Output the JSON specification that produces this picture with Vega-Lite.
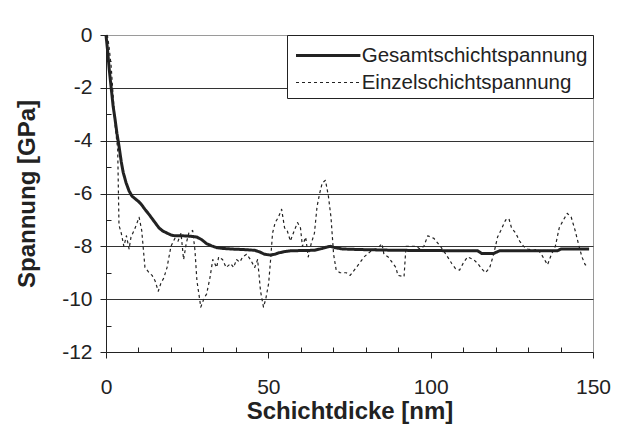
{
  "$schema": "https://vega.github.io/schema/vega-lite/v6.json",
  "autosize": {"type": "none"},
  "padding": {"left": 106, "top": 35, "right": 31, "bottom": 78},
  "width": 487,
  "height": 317,
  "background": "white",
  "config": {
    "view": {"stroke": "#9a9a9a", "strokeWidth": 1},
    "font": "Liberation Sans"
  },
  "data": {"values": [
    {"k":"Gesamtschichtspannung","x":0,"y":0},{"k":"Gesamtschichtspannung","x":0.5,"y":-0.6},{"k":"Gesamtschichtspannung","x":1.0,"y":-1.3},{"k":"Gesamtschichtspannung","x":1.6,"y":-2.0},{"k":"Gesamtschichtspannung","x":2.2,"y":-2.7},{"k":"Gesamtschichtspannung","x":2.8,"y":-3.2},{"k":"Gesamtschichtspannung","x":3.4,"y":-3.75},{"k":"Gesamtschichtspannung","x":4.0,"y":-4.2},{"k":"Gesamtschichtspannung","x":4.7,"y":-4.8},{"k":"Gesamtschichtspannung","x":5.3,"y":-5.2},{"k":"Gesamtschichtspannung","x":6.2,"y":-5.6},{"k":"Gesamtschichtspannung","x":7.1,"y":-5.9},{"k":"Gesamtschichtspannung","x":8.0,"y":-6.1},{"k":"Gesamtschichtspannung","x":9.0,"y":-6.2},{"k":"Gesamtschichtspannung","x":10.0,"y":-6.3},{"k":"Gesamtschichtspannung","x":10.8,"y":-6.4},{"k":"Gesamtschichtspannung","x":12.0,"y":-6.6},{"k":"Gesamtschichtspannung","x":13.3,"y":-6.8},{"k":"Gesamtschichtspannung","x":14.8,"y":-7.05},{"k":"Gesamtschichtspannung","x":16.3,"y":-7.3},{"k":"Gesamtschichtspannung","x":17.5,"y":-7.42},{"k":"Gesamtschichtspannung","x":18.8,"y":-7.5},{"k":"Gesamtschichtspannung","x":20.0,"y":-7.57},{"k":"Gesamtschichtspannung","x":21.2,"y":-7.6},{"k":"Gesamtschichtspannung","x":23.5,"y":-7.6},{"k":"Gesamtschichtspannung","x":26.1,"y":-7.62},{"k":"Gesamtschichtspannung","x":28.0,"y":-7.65},{"k":"Gesamtschichtspannung","x":29.5,"y":-7.75},{"k":"Gesamtschichtspannung","x":31.0,"y":-7.9},{"k":"Gesamtschichtspannung","x":32.5,"y":-7.98},{"k":"Gesamtschichtspannung","x":34.1,"y":-8.05},{"k":"Gesamtschichtspannung","x":36.0,"y":-8.08},{"k":"Gesamtschichtspannung","x":38.4,"y":-8.1},{"k":"Gesamtschichtspannung","x":42.0,"y":-8.12},{"k":"Gesamtschichtspannung","x":45.8,"y":-8.15},{"k":"Gesamtschichtspannung","x":47.5,"y":-8.22},{"k":"Gesamtschichtspannung","x":48.8,"y":-8.3},{"k":"Gesamtschichtspannung","x":50.7,"y":-8.33},{"k":"Gesamtschichtspannung","x":52.0,"y":-8.3},{"k":"Gesamtschichtspannung","x":53.1,"y":-8.25},{"k":"Gesamtschichtspannung","x":55.0,"y":-8.2},{"k":"Gesamtschichtspannung","x":56.8,"y":-8.17},{"k":"Gesamtschichtspannung","x":60,"y":-8.16},{"k":"Gesamtschichtspannung","x":64.2,"y":-8.15},{"k":"Gesamtschichtspannung","x":66.6,"y":-8.08},{"k":"Gesamtschichtspannung","x":68.0,"y":-8.03},{"k":"Gesamtschichtspannung","x":69.1,"y":-8.0},{"k":"Gesamtschichtspannung","x":70.5,"y":-8.05},{"k":"Gesamtschichtspannung","x":72.8,"y":-8.1},{"k":"Gesamtschichtspannung","x":77.7,"y":-8.12},{"k":"Gesamtschichtspannung","x":85,"y":-8.14},{"k":"Gesamtschichtspannung","x":89.9,"y":-8.15},{"k":"Gesamtschichtspannung","x":100,"y":-8.16},{"k":"Gesamtschichtspannung","x":114.5,"y":-8.17},{"k":"Gesamtschichtspannung","x":115.7,"y":-8.27},{"k":"Gesamtschichtspannung","x":119.4,"y":-8.27},{"k":"Gesamtschichtspannung","x":121.2,"y":-8.17},{"k":"Gesamtschichtspannung","x":130,"y":-8.17},{"k":"Gesamtschichtspannung","x":139,"y":-8.17},{"k":"Gesamtschichtspannung","x":140.2,"y":-8.1},{"k":"Gesamtschichtspannung","x":148.8,"y":-8.1},
    {"k":"Einzelschichtspannung","x":0.4,"y":0},{"k":"Einzelschichtspannung","x":0.9,"y":-0.4},{"k":"Einzelschichtspannung","x":1.6,"y":-1.2},{"k":"Einzelschichtspannung","x":2.2,"y":-2.3},{"k":"Einzelschichtspannung","x":2.8,"y":-3.4},{"k":"Einzelschichtspannung","x":3.3,"y":-4.0},{"k":"Einzelschichtspannung","x":3.6,"y":-4.3},{"k":"Einzelschichtspannung","x":4.0,"y":-7.2},{"k":"Einzelschichtspannung","x":4.7,"y":-7.5},{"k":"Einzelschichtspannung","x":5.5,"y":-8.0},{"k":"Einzelschichtspannung","x":6.3,"y":-7.6},{"k":"Einzelschichtspannung","x":7.1,"y":-8.1},{"k":"Einzelschichtspannung","x":7.7,"y":-7.65},{"k":"Einzelschichtspannung","x":9.0,"y":-7.3},{"k":"Einzelschichtspannung","x":10.2,"y":-6.9},{"k":"Einzelschichtspannung","x":11.0,"y":-7.4},{"k":"Einzelschichtspannung","x":12.0,"y":-8.8},{"k":"Einzelschichtspannung","x":13.3,"y":-9.0},{"k":"Einzelschichtspannung","x":14.2,"y":-9.1},{"k":"Einzelschichtspannung","x":15.1,"y":-9.3},{"k":"Einzelschichtspannung","x":16.1,"y":-9.7},{"k":"Einzelschichtspannung","x":16.9,"y":-9.4},{"k":"Einzelschichtspannung","x":17.8,"y":-9.2},{"k":"Einzelschichtspannung","x":18.8,"y":-8.8},{"k":"Einzelschichtspannung","x":20.0,"y":-8.0},{"k":"Einzelschichtspannung","x":21.2,"y":-7.7},{"k":"Einzelschichtspannung","x":22.2,"y":-7.8},{"k":"Einzelschichtspannung","x":23.1,"y":-7.5},{"k":"Einzelschichtspannung","x":23.9,"y":-8.5},{"k":"Einzelschichtspannung","x":24.7,"y":-7.9},{"k":"Einzelschichtspannung","x":25.5,"y":-7.5},{"k":"Einzelschichtspannung","x":26.7,"y":-7.4},{"k":"Einzelschichtspannung","x":27.4,"y":-8.15},{"k":"Einzelschichtspannung","x":28.0,"y":-9.3},{"k":"Einzelschichtspannung","x":29.2,"y":-10.3},{"k":"Einzelschichtspannung","x":30.1,"y":-10.0},{"k":"Einzelschichtspannung","x":31.0,"y":-9.8},{"k":"Einzelschichtspannung","x":32.0,"y":-9.2},{"k":"Einzelschichtspannung","x":32.9,"y":-8.5},{"k":"Einzelschichtspannung","x":34.1,"y":-8.8},{"k":"Einzelschichtspannung","x":34.7,"y":-8.4},{"k":"Einzelschichtspannung","x":35.9,"y":-8.5},{"k":"Einzelschichtspannung","x":37.0,"y":-8.8},{"k":"Einzelschichtspannung","x":38.4,"y":-8.65},{"k":"Einzelschichtspannung","x":39.3,"y":-8.8},{"k":"Einzelschichtspannung","x":40.2,"y":-8.5},{"k":"Einzelschichtspannung","x":41.2,"y":-8.6},{"k":"Einzelschichtspannung","x":42.1,"y":-8.4},{"k":"Einzelschichtspannung","x":43.3,"y":-8.3},{"k":"Einzelschichtspannung","x":44.5,"y":-8.5},{"k":"Einzelschichtspannung","x":45.8,"y":-8.8},{"k":"Einzelschichtspannung","x":46.7,"y":-8.5},{"k":"Einzelschichtspannung","x":47.6,"y":-9.7},{"k":"Einzelschichtspannung","x":48.5,"y":-10.3},{"k":"Einzelschichtspannung","x":49.2,"y":-10.0},{"k":"Einzelschichtspannung","x":50.1,"y":-9.4},{"k":"Einzelschichtspannung","x":50.7,"y":-8.5},{"k":"Einzelschichtspannung","x":51.3,"y":-7.5},{"k":"Einzelschichtspannung","x":52.1,"y":-7.1},{"k":"Einzelschichtspannung","x":53.1,"y":-6.9},{"k":"Einzelschichtspannung","x":54.1,"y":-6.6},{"k":"Einzelschichtspannung","x":55.0,"y":-7.3},{"k":"Einzelschichtspannung","x":55.8,"y":-7.4},{"k":"Einzelschichtspannung","x":56.8,"y":-7.8},{"k":"Einzelschichtspannung","x":58.0,"y":-7.4},{"k":"Einzelschichtspannung","x":59.0,"y":-7.1},{"k":"Einzelschichtspannung","x":59.9,"y":-7.3},{"k":"Einzelschichtspannung","x":60.5,"y":-8.0},{"k":"Einzelschichtspannung","x":61.5,"y":-7.65},{"k":"Einzelschichtspannung","x":62.3,"y":-8.4},{"k":"Einzelschichtspannung","x":63.2,"y":-7.9},{"k":"Einzelschichtspannung","x":64.2,"y":-7.5},{"k":"Einzelschichtspannung","x":65.0,"y":-6.5},{"k":"Einzelschichtspannung","x":65.8,"y":-6.0},{"k":"Einzelschichtspannung","x":66.6,"y":-5.6},{"k":"Einzelschichtspannung","x":67.6,"y":-5.5},{"k":"Einzelschichtspannung","x":68.5,"y":-6.1},{"k":"Einzelschichtspannung","x":69.3,"y":-6.9},{"k":"Einzelschichtspannung","x":70.1,"y":-8.3},{"k":"Einzelschichtspannung","x":70.9,"y":-8.9},{"k":"Einzelschichtspannung","x":72.1,"y":-9.0},{"k":"Einzelschichtspannung","x":74.0,"y":-9.0},{"k":"Einzelschichtspannung","x":75.2,"y":-9.1},{"k":"Einzelschichtspannung","x":77.1,"y":-8.8},{"k":"Einzelschichtspannung","x":78.3,"y":-8.6},{"k":"Einzelschichtspannung","x":79.5,"y":-8.4},{"k":"Einzelschichtspannung","x":81.4,"y":-8.2},{"k":"Einzelschichtspannung","x":83.8,"y":-8.05},{"k":"Einzelschichtspannung","x":85.0,"y":-7.9},{"k":"Einzelschichtspannung","x":85.6,"y":-8.3},{"k":"Einzelschichtspannung","x":86.9,"y":-8.4},{"k":"Einzelschichtspannung","x":88.1,"y":-8.6},{"k":"Einzelschichtspannung","x":89.3,"y":-8.8},{"k":"Einzelschichtspannung","x":89.9,"y":-9.1},{"k":"Einzelschichtspannung","x":91.8,"y":-9.15},{"k":"Einzelschichtspannung","x":92.4,"y":-8.0},{"k":"Einzelschichtspannung","x":93.6,"y":-8.0},{"k":"Einzelschichtspannung","x":95.5,"y":-8.0},{"k":"Einzelschichtspannung","x":96.7,"y":-8.1},{"k":"Einzelschichtspannung","x":97.9,"y":-8.0},{"k":"Einzelschichtspannung","x":99.1,"y":-7.6},{"k":"Einzelschichtspannung","x":101,"y":-7.7},{"k":"Einzelschichtspannung","x":103,"y":-8.0},{"k":"Einzelschichtspannung","x":104.7,"y":-8.3},{"k":"Einzelschichtspannung","x":106.5,"y":-8.65},{"k":"Einzelschichtspannung","x":107.7,"y":-8.85},{"k":"Einzelschichtspannung","x":108.9,"y":-8.9},{"k":"Einzelschichtspannung","x":110.2,"y":-8.6},{"k":"Einzelschichtspannung","x":111.4,"y":-8.4},{"k":"Einzelschichtspannung","x":113.2,"y":-8.5},{"k":"Einzelschichtspannung","x":114.5,"y":-8.65},{"k":"Einzelschichtspannung","x":115.7,"y":-8.85},{"k":"Einzelschichtspannung","x":116.9,"y":-9.0},{"k":"Einzelschichtspannung","x":118.2,"y":-8.8},{"k":"Einzelschichtspannung","x":119.4,"y":-8.3},{"k":"Einzelschichtspannung","x":120.6,"y":-7.65},{"k":"Einzelschichtspannung","x":121.6,"y":-7.4},{"k":"Einzelschichtspannung","x":123.1,"y":-7.0},{"k":"Einzelschichtspannung","x":124.1,"y":-6.95},{"k":"Einzelschichtspannung","x":124.9,"y":-7.3},{"k":"Einzelschichtspannung","x":126.2,"y":-7.5},{"k":"Einzelschichtspannung","x":127.4,"y":-7.8},{"k":"Einzelschichtspannung","x":128.6,"y":-8.0},{"k":"Einzelschichtspannung","x":129.9,"y":-8.1},{"k":"Einzelschichtspannung","x":131.7,"y":-8.15},{"k":"Einzelschichtspannung","x":132.9,"y":-8.1},{"k":"Einzelschichtspannung","x":134.1,"y":-8.3},{"k":"Einzelschichtspannung","x":136.0,"y":-8.7},{"k":"Einzelschichtspannung","x":137.2,"y":-8.3},{"k":"Einzelschichtspannung","x":138.4,"y":-8.0},{"k":"Einzelschichtspannung","x":139.6,"y":-7.3},{"k":"Einzelschichtspannung","x":140.9,"y":-7.0},{"k":"Einzelschichtspannung","x":142.1,"y":-6.75},{"k":"Einzelschichtspannung","x":143.3,"y":-6.9},{"k":"Einzelschichtspannung","x":144.5,"y":-7.4},{"k":"Einzelschichtspannung","x":145.7,"y":-8.0},{"k":"Einzelschichtspannung","x":146.6,"y":-8.4},{"k":"Einzelschichtspannung","x":147.6,"y":-8.7},{"k":"Einzelschichtspannung","x":148.6,"y":-8.7}
  ]},
  "mark": {"type": "line", "strokeCap": "butt", "strokeJoin": "round"},
  "encoding": {
    "x": {
      "field": "x", "type": "quantitative",
      "scale": {"domain": [0, 150], "nice": false, "zero": false},
      "axis": {
        "title": "Schichtdicke [nm]",
        "values": [0,10,20,30,40,50,60,70,80,90,100,110,120,130,140,150],
        "labelExpr": "datum.value % 50 === 0 ? '' + datum.value : ''",
        "grid": false,
        "domainColor": "#222", "tickColor": "#222", "tickWidth": 1,
        "tickSize": {"condition": {"test": "datum.value % 50 === 0", "value": 6}, "value": -5},
        "labelFont": "Liberation Sans", "labelFontSize": 21, "labelColor": "#222", "labelPadding": 18,
        "labelFlush": false, "labelOverlap": false,
        "titleFont": "Liberation Sans", "titleFontSize": 24, "titleFontWeight": "bold", "titleColor": "#222", "titlePadding": 2
      }
    },
    "y": {
      "field": "y", "type": "quantitative",
      "scale": {"domain": [-12, 0], "nice": false, "zero": false},
      "axis": {
        "title": "Spannung [GPa]",
        "values": [-12,-11,-10,-9,-8,-7,-6,-5,-4,-3,-2,-1,0],
        "labelExpr": "datum.value % 2 === 0 ? '' + datum.value : ''",
        "grid": true, "gridColor": "#333", "gridWidth": 1,
        "gridOpacity": {"condition": {"test": "datum.value % 2 === 0 && datum.value > -12 && datum.value < 0", "value": 1}, "value": 0},
        "domainColor": "#222", "tickColor": "#222", "tickWidth": 1,
        "tickSize": {"condition": {"test": "datum.value % 2 === 0", "value": 6}, "value": -5},
        "labelFont": "Liberation Sans", "labelFontSize": 21, "labelColor": "#222", "labelPadding": 8,
        "labelFlush": false, "labelOverlap": false,
        "titleFont": "Liberation Sans", "titleFontSize": 24, "titleFontWeight": "bold", "titleColor": "#222", "titlePadding": 22
      }
    },
    "color": {
      "field": "k", "type": "nominal",
      "scale": {"domain": ["Gesamtschichtspannung", "Einzelschichtspannung"], "range": ["#222222", "#222222"]},
      "legend": {
        "title": null, "orient": "none", "legendX": 181, "legendY": 0,
        "strokeColor": "#222", "fillColor": "white", "padding": 5,
        "symbolType": "M-2.3,0H2.3", "symbolSize": 784, "symbolOffset": 20.7, "symbolStrokeColor": "#222",
        "labelFont": "Liberation Sans", "labelFontSize": 20.5, "labelColor": "#222", "labelOffset": 18,
        "rowPadding": 1.5, "labelLimit": 400
      }
    },
    "strokeDash": {
      "field": "k", "type": "nominal",
      "scale": {"domain": ["Gesamtschichtspannung", "Einzelschichtspannung"], "range": [[1, 0], [3, 3]]}
    },
    "strokeWidth": {
      "field": "k", "type": "nominal",
      "scale": {"domain": ["Gesamtschichtspannung", "Einzelschichtspannung"], "range": [3, 1.2]}
    }
  }
}
